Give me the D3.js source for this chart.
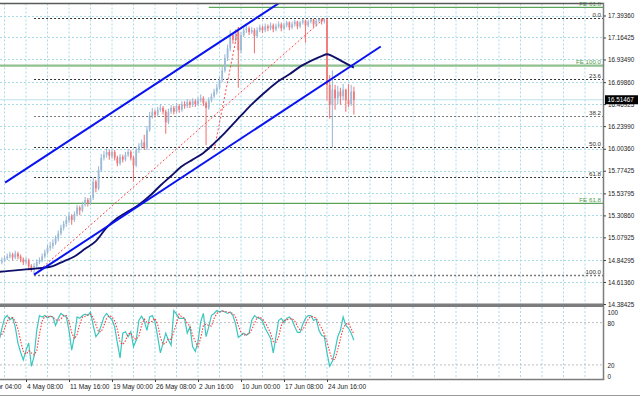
<!DOCTYPE html>
<html><head><meta charset="utf-8">
<script src="https://cdn.jsdelivr.net/npm/d3@7"></script>
<style>
html,body{margin:0;padding:0;background:#fff;overflow:hidden}
svg{display:block}
</style>
</head><body>
<svg id="c" width="640" height="397"></svg>
<script>
// ---------- data ----------
const priceTicks = [17.39360,17.16425,16.93490,16.69860,16.46925,16.23990,16.00360,15.77425,15.53795,15.30860,15.07925,14.84295,14.61360,14.38425];
const timeTickIdx = [-6,10,26,42,58,74,90,106,122];
const timeTickLabels = ["27 Apr 04:00","4 May 08:00","11 May 16:00","19 May 00:00","26 May 08:00","2 Jun 16:00","10 Jun 00:00","17 Jun 08:00","24 Jun 16:00"];
const lastPrice = 16.51467;

const opens = [
14.80,14.82,14.84,14.86,14.88,14.90,14.87,14.91,14.88,14.85,
14.82,14.84,14.78,14.74,14.78,14.82,14.84,14.88,14.92,14.97,
14.99,15.02,15.07,15.12,15.18,15.22,15.26,15.30,15.26,15.32,
15.39,15.36,15.42,15.47,15.44,15.49,15.66,15.59,15.78,15.91,
15.94,15.97,15.93,15.97,15.91,15.85,15.92,15.89,15.94,15.97,
15.91,15.83,15.99,16.03,16.07,16.01,16.20,16.35,16.39,16.36,
16.41,16.43,16.39,16.28,16.39,16.43,16.39,16.45,16.41,16.47,
16.45,16.49,16.46,16.50,16.47,16.51,16.53,16.48,16.43,16.51,
16.55,16.60,16.64,16.72,16.82,16.95,17.05,17.19,17.14,17.22,
17.03,17.19,17.24,17.26,17.22,17.24,17.18,17.24,17.27,17.24,
17.28,17.26,17.29,17.25,17.28,17.30,17.26,17.29,17.32,17.27,
17.30,17.33,17.28,17.32,17.34,17.29,17.33,17.35,17.30,17.34,
17.36,17.33,17.35,16.67,16.46,16.62,16.53,16.60,16.55,16.62,
16.51,16.47,16.60];
const closes = [
14.82,14.84,14.86,14.88,14.90,14.87,14.91,14.88,14.85,14.82,
14.84,14.78,14.74,14.78,14.82,14.84,14.88,14.92,14.97,14.99,
15.02,15.07,15.12,15.18,15.22,15.26,15.30,15.26,15.32,15.39,
15.36,15.42,15.47,15.44,15.49,15.66,15.59,15.78,15.91,15.94,
15.97,15.93,15.97,15.91,15.85,15.92,15.89,15.94,15.97,15.91,
15.83,15.99,16.03,16.07,16.01,16.20,16.35,16.39,16.36,16.41,
16.43,16.39,16.28,16.39,16.43,16.39,16.45,16.41,16.47,16.45,
16.49,16.46,16.50,16.47,16.51,16.53,16.48,16.43,16.51,16.55,
16.60,16.64,16.72,16.82,16.95,17.05,17.19,17.14,17.22,17.03,
17.19,17.24,17.26,17.22,17.24,17.18,17.24,17.27,17.24,17.28,
17.26,17.29,17.25,17.28,17.30,17.26,17.29,17.32,17.27,17.30,
17.33,17.28,17.32,17.34,17.29,17.33,17.35,17.30,17.34,17.36,
17.33,17.35,16.67,16.46,16.62,16.53,16.60,16.55,16.62,16.51,
16.47,16.60,16.51467];
const highs = [
14.85,14.87,14.89,14.91,14.93,14.92,14.94,14.93,14.90,14.87,
14.87,14.86,14.80,14.81,14.85,14.87,14.91,14.95,15.00,15.03,
15.06,15.10,15.15,15.21,15.25,15.30,15.34,15.32,15.35,15.42,
15.41,15.45,15.50,15.49,15.52,15.70,15.68,15.82,15.95,15.98,
16.01,15.99,16.00,15.99,15.93,15.95,15.94,15.97,16.00,15.99,
15.93,16.02,16.06,16.10,16.15,16.24,16.39,16.43,16.41,16.44,
16.47,16.45,16.41,16.42,16.46,16.45,16.48,16.47,16.50,16.50,
16.52,16.51,16.53,16.52,16.54,16.57,16.55,16.50,16.54,16.58,
16.63,16.68,16.76,16.86,16.99,17.09,17.24,17.21,17.25,17.27,
17.22,17.27,17.29,17.28,17.27,17.26,17.27,17.30,17.29,17.31,
17.30,17.32,17.31,17.31,17.33,17.32,17.32,17.34,17.33,17.33,
17.35,17.34,17.34,17.36,17.35,17.35,17.36,17.36,17.36,17.36,
17.36,17.364,17.36,16.77,16.82,16.67,16.66,16.64,16.68,16.63,
16.68,16.67,16.65];
const lows = [
14.77,14.80,14.82,14.84,14.86,14.84,14.85,14.85,14.82,14.79,
14.80,14.75,14.72,14.687,14.76,14.80,14.82,14.86,14.90,14.94,
14.96,15.00,15.04,15.10,15.15,15.19,15.23,15.21,15.24,15.30,
15.31,15.34,15.40,15.40,15.42,15.47,15.55,15.57,15.76,15.88,
15.91,15.89,15.90,15.88,15.82,15.83,15.86,15.87,15.92,15.88,
15.66,15.81,15.96,16.01,15.99,15.99,16.18,16.32,16.33,16.34,
16.39,16.36,16.16,16.26,16.37,16.36,16.37,16.38,16.39,16.42,
16.43,16.43,16.44,16.44,16.45,16.49,16.45,16.04,16.41,16.49,
16.53,16.57,16.62,16.70,16.80,16.92,17.02,17.10,17.12,16.64,
17.00,17.17,17.21,17.19,17.20,17.00,17.16,17.22,17.21,17.22,
17.23,17.24,17.22,17.23,17.26,17.23,17.24,17.27,17.24,17.25,
17.28,17.25,17.26,17.30,17.11,17.27,17.31,17.27,17.28,17.32,
17.30,17.31,16.51,16.32,16.02,16.41,16.47,16.46,16.51,16.39,
16.44,16.45,16.36];

const maIdx  = [0,4,8,12,16,20,24,28,32,36,40,44,48,52,56,60,64,68,72,76,80,84,88,92,96,100,104,108,112,116,120,122,124,128,132];
const maVals = [14.72,14.73,14.74,14.75,14.76,14.78,14.83,14.88,14.96,15.04,15.18,15.28,15.35,15.42,15.51,15.62,15.72,15.82,15.89,15.96,16.06,16.17,16.29,16.41,16.52,16.62,16.71,16.78,16.86,16.92,16.97,16.99,16.97,16.91,16.85];

const stochMain = [
55,71,86,90,84,87,74,51,38,27,
41,51,18,32,69,90,88,90,87,89,
88,76,86,93,90,88,69,41,60,88,
86,90,92,90,95,76,60,65,76,88,
93,88,84,74,51,30,65,67,60,67,
46,55,83,89,82,69,88,90,81,60,
37,51,65,55,48,97,92,86,86,86,
65,74,46,39,53,81,93,60,74,90,
93,97,95,97,95,93,95,90,78,59,
62,65,62,65,83,90,87,86,82,72,
65,58,37,60,83,86,80,86,88,84,
74,66,66,78,86,90,90,83,85,69,
62,60,37,18,25,41,60,69,88,76,
72,65,55];
const stochSignal = [
60,63,71,82,87,87,82,71,54,39,
35,40,37,34,40,64,82,89,88,89,
88,84,83,85,90,90,82,66,57,63,
78,88,89,91,92,87,77,67,67,76,
86,90,88,82,70,52,49,54,64,65,
58,56,61,76,85,80,80,82,86,77,
59,49,51,57,56,67,79,92,88,86,
79,75,62,53,46,58,76,78,76,75,
86,93,95,96,96,95,94,93,88,76,
66,62,63,64,70,79,87,88,85,80,
73,65,53,52,60,76,83,84,85,86,
82,75,69,70,77,85,89,88,86,79,
72,64,53,38,27,28,42,57,72,78,
79,71,64];
const stochTicks = [100,80,20,0];
const stochLevels = [80,20];

const fibLevels = [0,23.6,38.2,50,61.8,100];
const fibLabels = ["0.0","23.6","38.2","50.0","61.8","100.0"];
const fibIdx = [13,121];          // 100 anchor, 0 anchor
const fibPrice = [14.687,17.364];
const feLabels = ["FE 100.0","FE 61.8","FE 61.8"];
const fePrices = [16.870,15.434,17.479];
const feStart  = [-2,-2,78];
const channelLower = [[13,14.69],[142,17.07]];
const channelUpper = [[2.2,15.65],[131.2,18.02]];
const feTrend = [[80,15.99],[89,17.27]];

// ---------- layout ----------
const svg = d3.select("#c");
const FONT = "'Liberation Sans', Arial, sans-serif";
const R = 603.5, T = 3.5, B = 305, IT = 307, IB = 379.5;
svg.append("rect").attr("width",640).attr("height",397).attr("fill","#fff");

const x  = d3.scaleLinear().domain([0,132]).range([-0.875,353.875]);
const y  = d3.scaleLinear().domain([14.38425,17.39360]).range([304,15.5]);
const ys = d3.scaleLinear().domain([0,100]).range([379,308.5]);

const defs = svg.append("defs");
defs.append("clipPath").attr("id","cm").append("rect").attr("x",0).attr("y",T).attr("width",R).attr("height",B-T);
defs.append("clipPath").attr("id","ci").append("rect").attr("x",0).attr("y",IT).attr("width",R).attr("height",IB-IT);

const main = svg.append("g").attr("clip-path","url(#cm)");
const ind  = svg.append("g").attr("clip-path","url(#ci)");

const GRID = "#a9dbe6";
// vertical grid
const vIdx = d3.range(-6, 230, 8).filter(i => x(i) < R - 1);
main.selectAll("line.vg").data(vIdx).join("line")
  .attr("x1",d=>x(d)).attr("x2",d=>x(d)).attr("y1",T).attr("y2",B)
  .attr("stroke",GRID).attr("stroke-dasharray","2,2").attr("stroke-width",1);
ind.selectAll("line.vg").data(vIdx).join("line")
  .attr("x1",d=>x(d)).attr("x2",d=>x(d)).attr("y1",IT).attr("y2",IB)
  .attr("stroke",GRID).attr("stroke-dasharray","2,2").attr("stroke-width",1);
// horizontal grid
main.selectAll("line.hg").data(priceTicks).join("line")
  .attr("x1",0).attr("x2",R).attr("y1",d=>Math.round(y(d))+0.5).attr("y2",d=>Math.round(y(d))+0.5)
  .attr("stroke",GRID).attr("stroke-dasharray","2,2").attr("stroke-width",1);

// current price line
main.append("line").attr("x1",0).attr("x2",R).attr("y1",y(lastPrice)).attr("y2",y(lastPrice))
  .attr("stroke","#bde0ec").attr("stroke-width",1.2);

// FE green lines
const feColor = ["#8fc08f","#5aa55a","#5aa55a"];
const feWidth = [2.2,1.2,1.2];
fePrices.forEach((p,k)=>{
  main.append("line").attr("x1",Math.max(0,x(feStart[k]))).attr("x2",R)
    .attr("y1",y(p)).attr("y2",y(p)).attr("stroke",feColor[k]).attr("stroke-width",feWidth[k]);
});

// fib levels
const fibP = fibLevels.map(l => fibPrice[1] - (fibPrice[1]-fibPrice[0])*l/100);
main.selectAll("line.fib").data(fibP).join("line")
  .attr("x1",x(fibIdx[0])).attr("x2",R)
  .attr("y1",d=>Math.round(y(d))+0.5).attr("y2",d=>Math.round(y(d))+0.5)
  .attr("stroke",(d,i)=> (i===2||i===5) ? "#777" : "#333")
  .attr("stroke-width",(d,i)=> (i===5) ? 1.6 : 1.1)
  .attr("stroke-dasharray","2,2");

// candles
const bars = closes.map((c,i)=>({i, o:opens[i], h:highs[i], l:lows[i], c}));
const UP = "#9dbbd8", DN = "#f27878";
const cg = main.append("g");
cg.selectAll("line.w").data(bars).join("line")
  .attr("x1",d=>x(d.i)).attr("x2",d=>x(d.i))
  .attr("y1",d=>y(d.h)).attr("y2",d=>y(d.l))
  .attr("stroke",d=> d.c>=d.o ? UP : DN).attr("stroke-width",1.1);
cg.selectAll("rect.b").data(bars).join("rect")
  .attr("x",d=>x(d.i)-0.9).attr("width",1.8)
  .attr("y",d=>y(Math.max(d.o,d.c))).attr("height",d=>Math.max(1,Math.abs(y(d.o)-y(d.c))))
  .attr("fill",d=> d.c>=d.o ? UP : DN);

// red dotted trend lines (fibo + expansion)
main.append("line").attr("x1",x(fibIdx[0])).attr("y1",y(fibPrice[0])).attr("x2",x(fibIdx[1])).attr("y2",y(fibPrice[1]))
  .attr("stroke","#ff4a4a").attr("stroke-width",1).attr("stroke-dasharray","2,2");
main.append("line").attr("x1",x(feTrend[0][0])).attr("y1",y(feTrend[0][1])).attr("x2",x(feTrend[1][0])).attr("y2",y(feTrend[1][1]))
  .attr("stroke","#ff4a4a").attr("stroke-width",1).attr("stroke-dasharray","2,2");

// moving average
const maLine = d3.line().x(d=>x(d[0])).y(d=>y(d[1])).curve(d3.curveMonotoneX);
main.append("path").attr("d",maLine(maIdx.map((v,k)=>[v,maVals[k]])))
  .attr("fill","none").attr("stroke","#10106a").attr("stroke-width",1.9);

// channel
[channelLower, channelUpper].forEach(ch=>{
  main.append("line").attr("x1",x(ch[0][0])).attr("y1",y(ch[0][1])).attr("x2",x(ch[1][0])).attr("y2",y(ch[1][1]))
    .attr("stroke","#0a14f0").attr("stroke-width",2);
});

// fib labels
svg.selectAll("text.fl").data(fibP).join("text")
  .attr("x",601).attr("y",d=>Math.round(y(d))-1)
  .attr("text-anchor","end").attr("font-family",FONT).attr("font-size","6.2px").attr("fill","#333")
  .text((d,i)=>fibLabels[i]);
// FE labels
fePrices.forEach((p,k)=>{
  svg.append("text").attr("x",601).attr("y",y(p)-(k===0?1.8:1.2))
    .attr("text-anchor","end").attr("font-family",FONT).attr("font-size","6.2px").attr("fill","#4f9a4f")
    .text(feLabels[k]);
});

// stochastic
stochLevels.forEach(v=>{
  ind.append("line").attr("x1",0).attr("x2",R).attr("y1",ys(v)).attr("y2",ys(v))
    .attr("stroke","#bdbdbd").attr("stroke-width",1).attr("stroke-dasharray","2,2");
});
const sLine = d3.line().x((d,i)=>x(i)).y(d=>ys(d));
ind.append("path").attr("d",sLine(stochMain)).attr("fill","none").attr("stroke","#3cc6c0").attr("stroke-width",1.2);
ind.append("path").attr("d",sLine(stochSignal)).attr("fill","none").attr("stroke","#ff3b3b").attr("stroke-width",1.1).attr("stroke-dasharray","1.5,1.5");

// borders
svg.append("line").attr("x1",0).attr("x2",R).attr("y1",T).attr("y2",T).attr("stroke","#5a5a5a").attr("stroke-width",1.5);
svg.append("rect").attr("x",0).attr("y",303.5).attr("width",R).attr("height",3.5).attr("fill","#7d7d7d");
svg.append("line").attr("x1",0).attr("x2",R+0.75).attr("y1",IB).attr("y2",IB).attr("stroke","#7d7d7d").attr("stroke-width",1.5);
svg.append("line").attr("x1",R).attr("x2",R).attr("y1",T-0.75).attr("y2",IB).attr("stroke","#7d7d7d").attr("stroke-width",1.5);
svg.append("line").attr("x1",0).attr("x2",640).attr("y1",395.5).attr("y2",395.5).attr("stroke","#9a9a9a").attr("stroke-width",1);

// right price axis
const ax = svg.append("g").attr("transform",`translate(${R},0)`)
  .call(d3.axisRight(y).tickValues(priceTicks).tickFormat(d3.format(".5f")).tickSize(2.5).tickPadding(2));
ax.attr("font-family",FONT).attr("font-size","6.3px");
ax.select(".domain").remove();
ax.selectAll("line").attr("stroke","#444");
ax.selectAll("text").attr("fill","#222");

// current price box
svg.append("rect").attr("x",R+1.5).attr("y",y(lastPrice)-4.5).attr("width",33).attr("height",9).attr("fill","#000");
svg.append("text").attr("x",R+4).attr("y",y(lastPrice)).attr("dy","0.35em")
  .attr("font-family",FONT).attr("font-size","6.3px").attr("fill","#fff").text(d3.format(".5f")(lastPrice));

// indicator axis
const ax2 = svg.append("g").attr("transform",`translate(${R},0)`)
  .call(d3.axisRight(ys).tickValues(stochTicks).tickFormat(d3.format("d")).tickSize(0).tickPadding(4));
ax2.attr("font-family",FONT).attr("font-size","6.3px");
ax2.select(".domain").remove();
ax2.selectAll("text").attr("fill","#222")
  .attr("y",d=> d===100 ? 3.5 : (d===0 ? -3 : 1));

// time axis
const ax3 = svg.append("g").attr("transform",`translate(0,${IB})`)
  .call(d3.axisBottom(x).tickValues(timeTickIdx).tickFormat((d,i)=>timeTickLabels[i]).tickSize(2.5).tickPadding(2));
ax3.attr("font-family",FONT).attr("font-size","6.6px");
ax3.select(".domain").remove();
ax3.selectAll("line").attr("stroke","#444");
ax3.selectAll("text").attr("fill","#222").attr("text-anchor","start").attr("x",0.5);
</script>
</body></html>
